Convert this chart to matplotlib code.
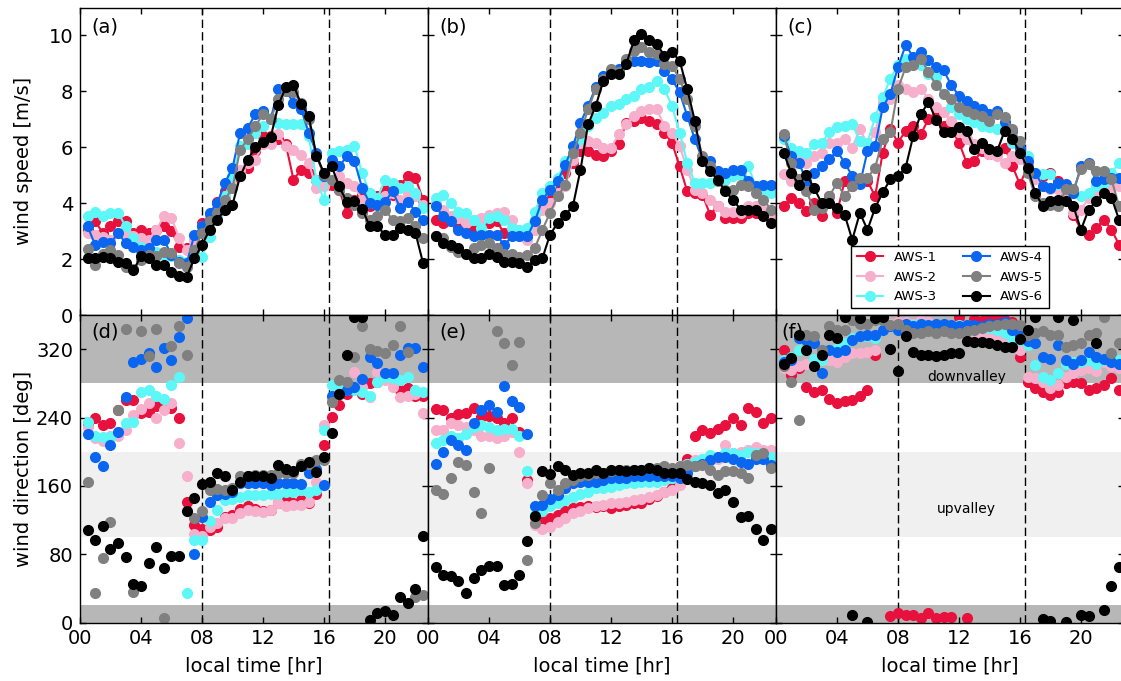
import numpy as np
import matplotlib
matplotlib.use("Agg")
import matplotlib.pyplot as plt

# half-hourly local time stamps
hours = np.arange(0.5, 22.51, 0.5)

stations = ["AWS-1", "AWS-2", "AWS-3", "AWS-4", "AWS-5", "AWS-6"]
colors = ["#e8103c", "#f7b0cc", "#5ef7f7", "#0a66f0", "#808080", "#000000"]

# ---- wind speed [m/s], day (a) ----
spd_a1 = [3.05, 3.35, 2.93, 3.17, 3.35, 3.35, 2.93, 3.05, 2.93, 3.05, 3.17, 2.99, 2.45, 2.39, 2.39,
          3.29, 3.53, 4.06, 4.42, 4.72, 4.96, 5.26, 5.86, 6.4, 6.4, 6.28, 6.1, 4.84, 5.2, 5.08,
          4.84, 4.84, 4.66, 4.48, 3.65, 4.12, 4.3, 3.89, 4.24, 4.48, 4.3, 4.66, 4.96, 4.9, 4.12]
spd_a2 = [2.93, 2.87, 2.79, 2.69, 2.93, 2.93, 2.81, 2.75, 2.69, 3.05, 3.53, 3.47, 2.75, 2.33, 2.69,
          3.17, 3.47, 3.83, 4.24, 4.66, 5.2, 5.44, 5.56, 6.1, 6.1, 6.46, 6.04, 5.92, 5.74, 5.44,
          4.55, 4.6, 4.84, 4.96, 4.72, 4.6, 4.12, 4.0, 4.18, 4.24, 4.36, 4.12, 4.36, 4.24, 3.94]
spd_a3 = [3.55, 3.7, 3.53, 3.65, 3.65, 3.17, 2.75, 2.45, 2.2, 2.27, 2.15, 2.1, 1.97, 1.9, 2.09,
          2.09, 2.8, 3.47, 4.24, 4.96, 6.04, 6.1, 6.52, 6.76, 7.06, 6.88, 6.82, 6.82, 6.82, 6.4,
          4.84, 4.12, 5.8, 5.86, 5.92, 6.04, 5.08, 4.36, 4.18, 4.84, 4.72, 4.55, 4.6, 4.36, 3.83]
spd_a4 = [3.17, 2.5, 2.6, 2.57, 2.93, 2.57, 2.45, 2.33, 2.39, 2.69, 2.69, 2.15, 1.91, 1.85, 2.87,
          3.17, 3.65, 4.0, 4.73, 5.26, 6.52, 6.7, 7.18, 7.3, 7.0, 8.08, 8.02, 7.6, 7.36, 6.52,
          5.8, 4.96, 5.56, 5.32, 5.68, 5.5, 4.55, 4.0, 3.94, 4.06, 4.42, 3.83, 4.06, 3.7, 3.4]
spd_a5 = [2.35, 1.8, 2.2, 2.33, 2.15, 1.73, 1.63, 1.97, 2.15, 2.1, 2.27, 2.23, 1.85, 1.73, 2.33,
          2.93, 3.35, 3.65, 4.12, 4.55, 5.92, 6.28, 6.76, 7.18, 7.0, 7.72, 8.02, 7.96, 7.6, 7.0,
          5.68, 5.02, 4.84, 4.48, 4.18, 3.94, 3.64, 3.4, 3.53, 3.77, 3.4, 3.35, 3.47, 3.17, 2.75]
spd_a6 = [2.05, 2.05, 2.08, 2.03, 1.9, 1.85, 1.6, 2.1, 2.05, 1.8, 1.8, 1.55, 1.4, 1.37, 2.03,
          2.5, 3.05, 3.4, 3.77, 3.95, 4.96, 5.56, 6.0, 6.2, 6.35, 7.5, 8.15, 8.23, 7.54, 7.12,
          5.7, 5.08, 5.32, 4.6, 4.03, 4.07, 3.8, 3.17, 3.17, 2.87, 2.87, 3.1, 3.05, 2.93, 1.85]

# ---- wind speed [m/s], day (b) ----
spd_b1 = [3.4, 3.29, 3.35, 3.1, 3.05, 3.05, 2.93, 3.29, 3.35, 2.93, 2.93, 2.93, 2.75, 3.35, 3.83,
          4.24, 4.6, 5.08, 5.44, 5.86, 5.86, 5.74, 5.68, 5.86, 6.1, 6.88, 6.94, 7.06, 6.94, 6.82,
          6.52, 6.16, 5.32, 4.42, 4.36, 4.3, 3.59, 3.89, 3.47, 3.47, 3.47, 3.65, 3.65, 3.59, 3.53]
spd_b2 = [4.0, 3.77, 3.53, 3.47, 3.29, 3.4, 3.47, 3.59, 3.65, 3.7, 3.4, 3.05, 2.69, 3.05, 3.77,
          4.0, 4.36, 4.6, 5.56, 6.16, 6.22, 6.16, 5.98, 5.98, 6.46, 6.82, 7.12, 7.3, 7.36, 7.36,
          6.76, 6.52, 6.04, 5.2, 4.48, 4.36, 4.12, 3.89, 3.7, 3.7, 3.65, 3.89, 3.89, 3.77, 3.53]
spd_b3 = [4.18, 4.3, 4.0, 3.7, 3.65, 3.4, 3.1, 3.47, 3.53, 3.4, 3.1, 3.05, 3.1, 3.7, 4.36,
          4.6, 4.9, 5.5, 5.8, 6.28, 6.76, 7.06, 7.24, 7.48, 7.54, 7.72, 7.84, 8.08, 8.14, 8.38,
          8.08, 7.48, 6.52, 5.44, 4.72, 4.72, 4.72, 4.84, 4.84, 4.96, 5.02, 5.32, 4.6, 4.48, 4.36]
spd_b4 = [3.89, 3.53, 3.35, 3.05, 2.93, 2.81, 2.87, 2.87, 2.87, 2.5, 2.81, 2.81, 2.81, 3.35, 4.12,
          4.48, 4.78, 5.38, 6.04, 6.88, 7.48, 8.14, 8.56, 8.74, 8.8, 9.04, 9.1, 9.1, 9.04, 9.1,
          8.74, 8.44, 7.96, 7.12, 6.28, 5.56, 5.5, 5.14, 5.08, 5.2, 5.2, 4.78, 4.6, 4.66, 4.66]
spd_b5 = [2.81, 2.75, 2.45, 2.27, 2.2, 2.39, 2.5, 2.57, 2.39, 2.2, 2.2, 2.09, 2.15, 2.39, 3.05,
          3.65, 4.24, 4.66, 5.8, 6.52, 7.36, 8.08, 8.44, 8.8, 8.68, 9.16, 9.46, 9.58, 9.4, 9.34,
          8.98, 8.92, 8.44, 7.72, 6.76, 5.68, 5.32, 4.78, 4.48, 4.48, 4.66, 4.6, 4.36, 4.12, 3.77]
spd_b6 = [2.81, 2.57, 2.5, 2.39, 2.2, 2.03, 2.03, 2.2, 2.09, 1.91, 1.91, 1.85, 1.73, 1.97, 2.03,
          2.87, 3.29, 3.59, 3.89, 5.2, 6.82, 7.48, 8.38, 8.63, 8.63, 8.98, 9.82, 10.06, 9.82, 9.7,
          9.28, 9.4, 9.1, 8.08, 6.94, 5.5, 5.14, 4.84, 4.42, 4.12, 3.77, 3.77, 3.77, 3.53, 3.29]

# ---- wind speed [m/s], day (c) ----
spd_c1 = [3.89, 4.19, 4.01, 3.71, 4.01, 3.53, 4.25, 3.65, 4.79, 4.61, 4.79, 4.79, 4.25, 5.81, 6.65,
          6.17, 6.59, 6.77, 6.47, 7.01, 7.07, 6.77, 6.65, 6.17, 5.45, 5.51, 5.87, 5.75, 5.81, 5.99,
          5.33, 4.67, 5.33, 4.97, 4.97, 5.09, 4.79, 4.37, 3.59, 3.05, 2.87, 3.11, 3.41, 3.05, 2.51]
spd_c2 = [5.03, 4.79, 5.57, 5.45, 5.69, 5.81, 6.17, 6.17, 6.29, 5.99, 6.65, 6.11, 6.53, 7.61, 7.73,
          8.21, 8.09, 7.97, 8.09, 7.73, 7.43, 7.25, 6.95, 6.53, 6.29, 6.11, 5.99, 5.75, 5.69, 5.45,
          5.69, 5.57, 5.33, 4.85, 4.61, 4.49, 4.49, 4.19, 3.65, 3.77, 4.19, 4.37, 4.43, 4.55, 4.61]
spd_c3 = [6.29, 5.99, 5.87, 5.81, 6.11, 6.17, 6.53, 6.71, 6.77, 6.83, 6.23, 6.17, 7.07, 7.79, 8.45,
          8.93, 9.17, 9.05, 8.93, 8.63, 8.51, 7.91, 7.43, 7.19, 7.01, 6.89, 6.77, 6.71, 6.65, 6.77,
          6.17, 5.81, 5.69, 5.09, 5.03, 5.03, 4.67, 4.49, 4.37, 4.25, 4.37, 4.61, 4.73, 5.09, 5.45]
spd_c4 = [6.41, 5.69, 5.45, 4.79, 5.09, 5.33, 5.57, 5.87, 5.45, 4.97, 4.67, 5.87, 6.05, 7.43, 7.91,
          8.87, 9.65, 9.23, 9.41, 9.11, 8.87, 8.75, 8.21, 7.85, 7.67, 7.49, 7.37, 7.19, 7.31, 6.89,
          6.59, 5.99, 5.51, 5.09, 4.61, 4.55, 4.73, 4.67, 4.37, 5.33, 5.45, 4.79, 4.85, 4.91, 4.91]
spd_c5 = [6.47, 5.45, 4.85, 4.43, 3.77, 3.83, 4.25, 4.73, 4.25, 4.61, 4.91, 4.91, 5.27, 6.29, 6.53,
          8.09, 8.87, 8.93, 9.17, 8.69, 8.21, 7.91, 7.73, 7.43, 7.31, 7.19, 7.13, 6.95, 7.19, 7.07,
          6.65, 6.23, 5.09, 4.25, 4.01, 3.95, 3.89, 4.49, 4.49, 5.21, 5.39, 5.15, 5.15, 4.85, 3.89]
spd_c6 = [5.8, 5.08, 4.66, 5.02, 4.54, 4.0, 4.0, 3.83, 3.59, 2.69, 3.65, 3.05, 3.83, 4.39, 4.85,
          4.97, 5.27, 6.41, 7.19, 7.61, 6.98, 6.55, 6.55, 6.71, 6.59, 5.93, 6.17, 5.93, 5.87, 6.59,
          6.29, 5.81, 5.27, 4.37, 3.89, 4.07, 4.13, 4.07, 3.89, 3.05, 3.77, 4.07, 4.37, 4.19, 3.41]

# ---- wind direction [deg], day (a) -> panel (d) ----
dir_d1 = [231, 240, 231, 233, 249, 260, 261, 245, 247, 253, 253, 251, 239, 141, 114,
          110, 108, 112, 124, 126, 133, 136, 133, 130, 132, 140, 145, 140, 143, 140,
          150, 208, 241, 255, 267, 273, 267, 280, 282, 288, 284, 272, 274, 265, 265]
dir_d2 = [229, 216, 212, 218, 218, 225, 243, 250, 257, 239, 249, 257, 210, 171, 104,
          101, 112, 116, 122, 122, 128, 132, 130, 129, 132, 140, 136, 138, 138, 141,
          165, 231, 262, 283, 280, 293, 276, 264, 293, 284, 276, 264, 265, 267, 245]
dir_d3 = [235, 218, 217, 217, 223, 233, 235, 270, 272, 265, 262, 278, 288, 35, 97,
          97, 119, 132, 143, 145, 147, 149, 149, 149, 151, 151, 153, 153, 155, 153,
          155, 225, 278, 276, 272, 272, 270, 265, 281, 288, 286, 284, 288, 272, 270]
dir_d4 = [221, 194, 183, 208, 223, 264, 305, 308, 316, 299, 321, 307, 334, 357, 80,
          124, 141, 149, 151, 153, 163, 163, 163, 163, 161, 163, 163, 163, 162, 175,
          180, 161, 265, 268, 272, 276, 285, 311, 304, 292, 292, 313, 321, 321, 299]
dir_d5 = [165, 35, 75, 118, 249, 344, 36, 341, 312, 344, 5, 324, 347, 313, 122,
          130, 155, 156, 155, 157, 171, 171, 173, 173, 173, 175, 175, 175, 186, 186,
          190, 190, 258, 284, 282, 311, 347, 320, 318, 315, 325, 347, 317, 30, 32]
dir_d6 = [108, 97, 113, 86, 93, 77, 45, 43, 70, 88, 64, 78, 78, 131, 146,
          162, 165, 175, 172, 155, 165, 172, 172, 171, 169, 184, 180, 177, 183, 188,
          176, 194, 222, 268, 313, 358, 358, 3, 11, 13, 9, 30, 23, 39, 101]

# ---- wind direction [deg], day (b) -> panel (e) ----
dir_e1 = [250, 249, 240, 244, 245, 251, 241, 242, 240, 234, 239, 223, 167, 123, 119,
          122, 126, 130, 134, 135, 136, 135, 136, 134, 136, 138, 140, 140, 145, 148,
          153, 157, 163, 192, 218, 225, 222, 226, 231, 240, 231, 251, 246, 233, 239]
dir_e2 = [225, 225, 233, 231, 229, 225, 218, 218, 216, 218, 223, 200, 163, 114, 110,
          112, 118, 122, 128, 130, 134, 136, 138, 140, 140, 141, 143, 145, 147, 149,
          153, 155, 161, 186, 190, 190, 192, 191, 208, 198, 200, 202, 206, 202, 202]
dir_e3 = [210, 214, 218, 216, 221, 229, 231, 229, 225, 227, 227, 218, 177, 126, 130,
          136, 140, 143, 147, 151, 153, 157, 157, 159, 161, 163, 163, 164, 165, 165,
          167, 169, 171, 186, 188, 192, 196, 194, 198, 198, 196, 200, 198, 194, 194]
dir_e4 = [186, 200, 214, 208, 202, 233, 249, 255, 247, 277, 259, 252, 221, 136, 138,
          145, 149, 157, 163, 165, 165, 165, 167, 169, 169, 169, 171, 171, 171, 171,
          171, 171, 169, 175, 183, 186, 190, 194, 194, 192, 188, 186, 192, 192, 184]
dir_e5 = [155, 151, 169, 188, 184, 153, 128, 181, 341, 327, 302, 328, 73, 116, 149,
          163, 155, 163, 167, 171, 173, 175, 175, 177, 179, 179, 179, 179, 181, 181,
          183, 181, 183, 184, 183, 184, 179, 173, 177, 177, 175, 169, 196, 198, 181]
dir_e6 = [65, 56, 54, 49, 35, 52, 62, 66, 66, 44, 45, 56, 96, 125, 177,
          174, 183, 178, 173, 175, 175, 179, 175, 178, 179, 177, 179, 179, 181, 179,
          175, 175, 175, 168, 164, 163, 161, 152, 155, 141, 124, 125, 109, 97, 110]

# ---- wind direction [deg], day (c) -> panel (f) ----
dir_f1 = [319, 290, 298, 276, 270, 272, 262, 257, 259, 261, 265, 272, 313, 357, 8,
          11, 9, 9, 5, 11, 5, 7, 7, 358, 5, 355, 353, 356, 357, 354,
          352, 311, 282, 274, 270, 266, 270, 280, 282, 280, 272, 274, 278, 286, 272]
dir_f2 = [298, 296, 300, 303, 305, 307, 307, 305, 311, 315, 315, 317, 319, 343, 350,
          352, 352, 350, 354, 352, 350, 348, 345, 343, 341, 339, 337, 335, 333, 333,
          327, 319, 288, 286, 282, 274, 278, 288, 292, 296, 298, 294, 305, 300, 298]
dir_f3 = [307, 311, 319, 319, 309, 307, 319, 321, 327, 333, 335, 335, 333, 343, 347,
          347, 348, 348, 350, 348, 347, 348, 347, 348, 348, 347, 345, 345, 343, 339,
          333, 331, 325, 302, 288, 284, 292, 303, 305, 305, 307, 303, 307, 311, 307]
dir_f4 = [305, 307, 333, 331, 327, 292, 319, 317, 319, 331, 335, 337, 337, 343, 347,
          343, 350, 347, 350, 348, 350, 350, 348, 347, 348, 348, 347, 350, 350, 352,
          343, 337, 329, 327, 311, 309, 325, 307, 303, 307, 317, 311, 309, 305, 303]
dir_f5 = [300, 282, 237, 337, 335, 319, 347, 343, 343, 354, 350, 350, 354, 354, 348,
          350, 343, 339, 339, 341, 339, 341, 339, 339, 341, 343, 345, 347, 348, 350,
          350, 348, 337, 339, 341, 337, 337, 323, 325, 327, 337, 339, 358, 315, 327]
dir_f6 = [303, 310, 337, 319, 300, 313, 337, 333, 358, 9, 357, 1, 357, 358, 320,
          294, 336, 317, 313, 313, 312, 313, 315, 316, 329, 328, 328, 327, 325, 323,
          323, 332, 343, 358, 4, 2, 358, 1, 354, 9, 8, 327, 15, 43, 65]

speed_sets = [
    [spd_a1, spd_a2, spd_a3, spd_a4, spd_a5, spd_a6],
    [spd_b1, spd_b2, spd_b3, spd_b4, spd_b5, spd_b6],
    [spd_c1, spd_c2, spd_c3, spd_c4, spd_c5, spd_c6],
]
dir_sets = [
    [dir_d1, dir_d2, dir_d3, dir_d4, dir_d5, dir_d6],
    [dir_e1, dir_e2, dir_e3, dir_e4, dir_e5, dir_e6],
    [dir_f1, dir_f2, dir_f3, dir_f4, dir_f5, dir_f6],
]
top_tags = ["(a)", "(b)", "(c)"]
bot_tags = ["(d)", "(e)", "(f)"]

xticks = [0, 4, 8, 12, 16, 20]
xticklabels = ["00", "04", "08", "12", "16", "20"]
sunrise, sunset = 8.0, 16.33

W, H = 1121.0, 681.0
fig = plt.figure(figsize=(W / 100, H / 100), dpi=100)

panel_w = 348.0
panel_h = 307.5
lefts = [80.0, 428.0, 776.0]
top_row_y = 315.0     # pixel row of boundary between the two rows
bot_row_y = 622.5     # pixel row of the lower x axis


def style_axis(ax):
    ax.tick_params(direction="in", top=True, right=True, length=4, width=1,
                   labelsize=14, pad=5)
    for sp in ax.spines.values():
        sp.set_linewidth(1.0)
    ax.set_xlim(0, 22.82)
    ax.set_xticks(xticks)
    for xv in (sunrise, sunset):
        ax.axvline(xv, color="k", lw=1.0, dashes=(6, 3), zorder=1.5)


for j in range(3):
    # upper row: wind speed
    axt = fig.add_axes([lefts[j] / W, (H - top_row_y) / H, panel_w / W, panel_h / H])
    style_axis(axt)
    for i, vals in enumerate(speed_sets[j]):
        axt.plot(hours, vals, "-o", color=colors[i], mfc=colors[i], mec=colors[i],
                 ms=7, lw=1.5, label=stations[i], zorder=2 + 0.01 * i)
    axt.set_ylim(0, 11)
    axt.set_yticks([0, 2, 4, 6, 8, 10])
    axt.set_xticklabels([])
    axt.text(0.034, 0.968, top_tags[j], transform=axt.transAxes, fontsize=14,
             ha="left", va="top", zorder=1.8)
    if j == 0:
        axt.set_ylabel("wind speed [m/s]", fontsize=14)
        axt.yaxis.set_label_coords(-0.135, 0.5)
    else:
        axt.set_yticklabels([])
    if j == 2:
        axt.legend(loc="lower center", ncol=2, fontsize=9.5, fancybox=False,
                   edgecolor="k", framealpha=1, borderaxespad=0.5)

    # lower row: wind direction
    axb = fig.add_axes([lefts[j] / W, (H - bot_row_y) / H, panel_w / W, panel_h / H])
    style_axis(axb)
    axb.axhspan(280, 360, color="#b7b7b7", lw=0, zorder=0)
    axb.axhspan(0, 20, color="#b7b7b7", lw=0, zorder=0)
    axb.axhspan(100, 200, color="#f0f0f0", lw=0, zorder=0)
    for i, vals in enumerate(dir_sets[j]):
        axb.plot(hours, vals, "o", ls="none", color=colors[i], mfc=colors[i],
                 mec=colors[i], ms=7, zorder=2 + 0.01 * i)
    axb.set_ylim(0, 360)
    axb.set_yticks([0, 80, 160, 240, 320])
    axb.set_xticklabels(xticklabels)
    axb.set_xlabel("local time [hr]", fontsize=14, labelpad=6)
    tag_x = 0.015 if j == 2 else 0.034
    axb.text(tag_x, 0.974, bot_tags[j], transform=axb.transAxes, fontsize=14,
             ha="left", va="top", zorder=1.8)
    if j == 0:
        axb.set_ylabel("wind direction [deg]", fontsize=14)
        axb.yaxis.set_label_coords(-0.135, 0.5)
    else:
        axb.set_yticklabels([])
    if j == 2:
        axb.text(12.5, 288, "downvalley", fontsize=10, ha="center", va="center", zorder=1.8)
        axb.text(12.5, 133, "upvalley", fontsize=10, ha="center", va="center", zorder=1.8)

fig.savefig("out.png", dpi=100)
